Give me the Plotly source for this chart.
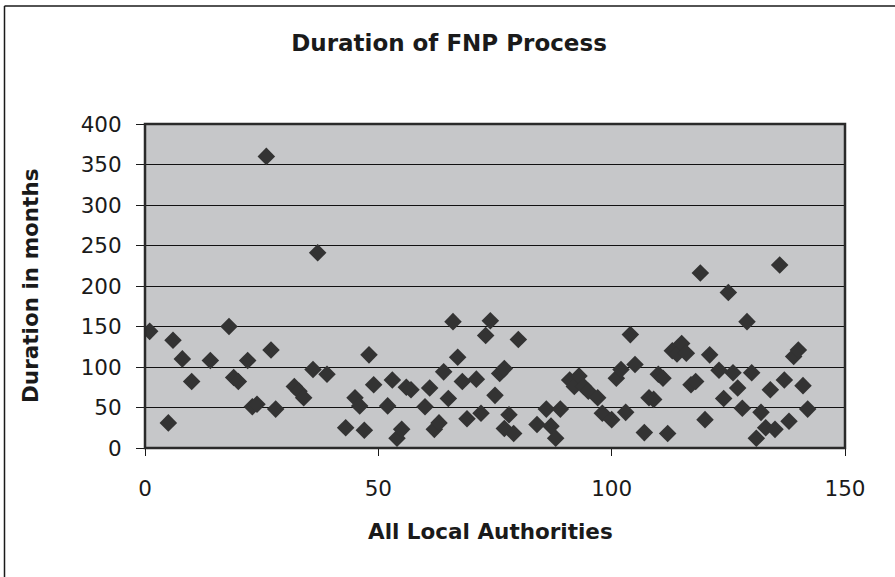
import plotly.graph_objects as go

authority = [1, 5, 6, 8, 10, 14, 18, 19, 20, 22, 23, 24, 26, 27, 28, 32, 33, 34, 36, 37, 39,
             43, 45, 46, 47, 48, 49, 52, 53, 54, 55, 56, 57, 60, 61, 62, 63, 64, 65, 66, 67,
             68, 69, 71, 72, 73, 74, 75, 76, 77, 77, 78, 79, 80, 84, 86, 87, 88, 89, 91, 92,
             93, 94, 95, 97, 98, 100, 101, 102, 103, 104, 105, 107, 108, 109, 110, 111, 112,
             113, 114, 115, 116, 117, 118, 119, 120, 121, 123, 124, 125, 126, 127, 128, 129,
             130, 131, 132, 133, 134, 135, 136, 137, 138, 139, 140, 141, 142]
duration = [144, 31, 133, 110, 82, 108, 150, 87, 82, 108, 51, 54, 360, 121, 48, 76, 70, 62, 97, 241, 91,
            25, 62, 52, 22, 115, 78, 52, 84, 12, 23, 75, 72, 51, 74, 23, 31, 94, 61, 156, 112,
            82, 36, 85, 43, 139, 157, 65, 92, 98, 24, 41, 18, 134, 29, 48, 27, 12, 48, 84, 76,
            89, 76, 70, 62, 43, 35, 86, 97, 44, 140, 103, 19, 62, 60, 91, 86, 18,
            120, 116, 129, 117, 78, 82, 216, 35, 115, 96, 61, 192, 93, 74, 49, 156,
            93, 12, 44, 25, 72, 23, 226, 84, 33, 113, 121, 77, 48]

x_ticks = [0, 50, 100, 150]
y_ticks = [0, 50, 100, 150, 200, 250, 300, 350, 400]

W, H = 895, 577
L, R, T, B = 145, 50, 124, 129
pw, ph = W - L - R, H - T - B

def px(x):
    return (x - L) / pw

def py(y):
    return (H - B - y) / ph

font = "DejaVu Sans, Liberation Sans, sans-serif"
ink = "#1a1a1a"

fig = go.Figure(go.Scatter(
    x=authority, y=duration, mode="markers",
    marker=dict(symbol="diamond", size=13.5, color="#333333", line=dict(width=0)),
    hoverinfo="x+y",
))

fig.update_layout(
    width=W, height=H,
    margin=dict(l=L, r=R, t=T, b=B, pad=0),
    paper_bgcolor="white",
    plot_bgcolor="#c6c7c9",
    showlegend=False,
    title=dict(text="<b>Duration of FNP Process</b>", x=449 / W, xref="container",
               y=1 - 43 / H, yref="container", yanchor="middle", xanchor="center",
               font=dict(family=font, size=23, color=ink)),
    font=dict(family=font, size=21, color=ink),
)

fig.update_xaxes(
    range=[0, 150], tickvals=x_ticks, ticks="outside", ticklen=7, tickwidth=1,
    tickcolor=ink, showgrid=False, zeroline=False, showline=False,
    tickfont=dict(family=font, size=21.5, color=ink), ticklabelstandoff=14,
)
fig.update_yaxes(
    range=[0, 400], tickvals=y_ticks, ticks="outside", ticklen=8, tickwidth=1,
    tickcolor=ink, showgrid=True, gridcolor="#111111", gridwidth=1,
    zeroline=False, showline=False,
    tickfont=dict(family=font, size=21.5, color=ink), ticklabelstandoff=10,
)

# plot frame
fig.add_shape(type="rect", xref="paper", yref="paper", x0=0, y0=0, x1=1, y1=1,
              line=dict(color="#2a2a2a", width=2.5), fillcolor="rgba(0,0,0,0)")

# outer chart border (top and left visible)
fig.add_shape(type="line", xref="paper", yref="paper", x0=px(4.5), y0=py(6), x1=px(W + 5), y1=py(6),
              line=dict(color=ink, width=1.5))
fig.add_shape(type="line", xref="paper", yref="paper", x0=px(4.5), y0=py(6), x1=px(4.5), y1=py(H + 5),
              line=dict(color=ink, width=1.5))

fig.add_annotation(text="<b>Duration in months</b>", xref="paper", yref="paper",
                   x=px(30), y=py(286), textangle=-90, showarrow=False,
                   xanchor="center", yanchor="middle",
                   font=dict(family=font, size=21.5, color=ink))
fig.add_annotation(text="<b>All Local Authorities</b>", xref="paper", yref="paper",
                   x=px(490), y=py(531), showarrow=False,
                   xanchor="center", yanchor="middle",
                   font=dict(family=font, size=21.5, color=ink))

fig.write_html("out.html")
